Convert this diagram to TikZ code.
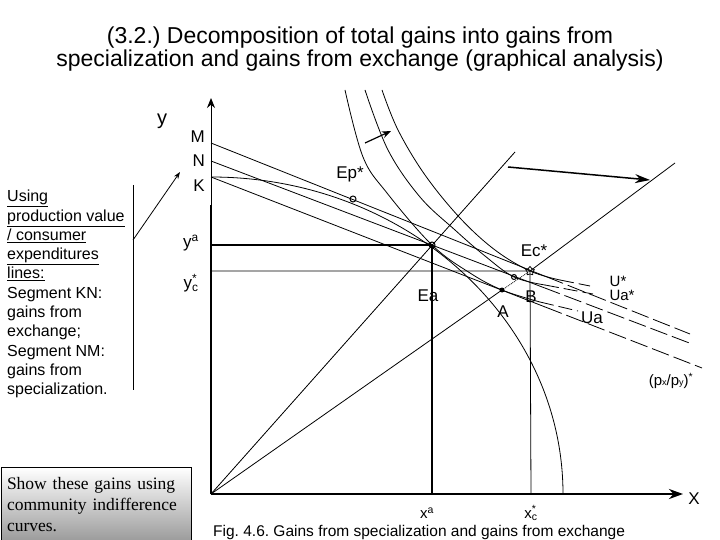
\documentclass[tikz,border=0pt]{standalone}
\usepackage{fontspec}
\setmainfont{Liberation Sans}
\newfontfamily\serifbox{Liberation Serif}
\usetikzlibrary{arrows.meta, positioning, shapes.geometric}
\frenchspacing

\begin{document}
\begin{tikzpicture}[
    x=1pt, y=-1pt,
    >=Stealth,
    axisline/.style={line width=2.4pt},
    guideline/.style={line width=1.8pt},
    valueline/.style={line width=0.8pt},
    valuetail/.style={line width=0.8pt, dash pattern=on 18pt off 5pt},
    indiff/.style={line width=0.8pt},
    indifftail/.style={line width=0.8pt, dash pattern=on 14pt off 5pt},
    ptmark/.style={circle, draw, line width=1pt, minimum size=6pt, inner sep=0pt},
    ptlabel/.style={font=\fontsize{17}{17}\selectfont, inner sep=0pt},
    smalllabel/.style={font=\fontsize{15}{15}\selectfont, inner sep=0pt},
    sidetext/.style={font=\fontsize{16}{19.3}\selectfont, align=left, inner sep=0pt}
]
\useasboundingbox (0,0) rectangle (720,540);

% --- Title ---
\node[font=\fontsize{23}{23}\selectfont, align=center] (title) at (360,49)
  {(3.2.) Decomposition of total gains into gains from\\specialization and gains from exchange (graphical analysis)};

% --- Left notes ---
\node[sidetext, anchor=north west] (notes) at (7,190)
  {\underline{Using}\\\underline{production value}\\\underline{/ consumer}\\\underline{expenditures}\\\underline{lines:}\\
   Segment KN:\\gains from\\exchange;\\Segment NM:\\gains from\\specialization.};
\coordinate (bracetop) at (133,185);
\coordinate (bracebot) at (133,390);
\coordinate (bracemid) at (133,240);
\coordinate (pointer) at (180,172);
\draw[line width=0.8pt] (bracetop) -- (bracebot);
\draw[line width=0.8pt, -{Stealth[length=7pt,width=5pt]}] (bracemid) -- (pointer);

\node[draw, line width=1pt, top color=white, bottom color=black!40, anchor=north west,
      text width=178pt, minimum height=75pt, inner xsep=6pt, inner ysep=4pt, align=left,
      font=\serifbox\fontsize{17.5}{21}\selectfont] (showbox) at (0.5,467)
  {Show these gains using\\community indifference\\curves.};

% --- Axes ---
\coordinate (O) at (211,494);
\coordinate (xtip) at (683,494);
\coordinate (ybreak) at (211,205);
\coordinate (ytip) at (211,98);
\draw[axisline] (O) -- (ybreak);
\draw[line width=1pt, -{Stealth[length=10pt,width=8pt]}] (ybreak) -- (ytip);
\draw[axisline, -{Stealth[length=14pt,width=10pt]}] (O) -- (xtip);
\node[font=\fontsize{20}{20}\selectfont] (ylab) at (162,121) {y};
\node[ptlabel] (xlab) at (694,499) {X};

% --- Points ---
\node[ptmark] (Ep) at (353,199) {};
\node[ptmark] (Ea) at (432,245) {};
\node[ptmark, minimum size=5pt] (Ex) at (514,277) {};
\node[circle, fill, minimum size=5pt, inner sep=0pt] (A) at (502,290) {};
\node[star, star points=5, draw, line width=0.8pt, minimum size=9pt, inner sep=0pt] (Ec) at (530,271) {};

% --- Axis intercepts ---
\coordinate (M) at (211,143);
\coordinate (N) at (211,161);
\coordinate (K) at (211,177);
\coordinate (ya) at (211,245);
\coordinate (yc) at (211,271);
\coordinate (xa) at (432,494);
\coordinate (xc) at (531,494);
\node[ptlabel, left=6pt of M, yshift=6pt] (Mlab) {M};
\node[ptlabel, left=6pt of N] (Nlab) {N};
\node[ptlabel, left=6pt of K, yshift=-9pt] (Klab) {K};
\node[ptlabel] (yalab) at (191,243) {y\textsuperscript{a}};
\node[ptlabel] (yclab) at (191,283) {y\rlap{\textsuperscript{*}}\textsubscript{c}};
\node[smalllabel] (xalab) at (427,513) {x\textsuperscript{a}};
\node[smalllabel] (xclab) at (531,513) {x\rlap{\textsuperscript{*}}\textsubscript{c}};

% --- Guide lines ---
\draw[guideline] (ya) -- (Ea.center) -- (xa);
\draw[valueline] (yc) -- (Ec.center) -- (xc);

% --- Value lines (M, N, K) ---
\coordinate (Mend) at (690,334);
\coordinate (Nend) at (692,344);
\coordinate (Kend) at (702,368);
\path (M) -- (Mend) coordinate[pos=0.70] (Mcut);
\path (N) -- (Nend) coordinate[pos=0.69] (Ncut);
\path (K) -- (Kend) coordinate[pos=0.68] (Kcut);
\draw[valueline] (M) -- (Mcut);
\draw[valuetail] (Mcut) -- (Mend);
\draw[valueline] (N) -- (Ncut);
\draw[valuetail] (Ncut) -- (Nend);
\draw[valueline] (K) -- (Kcut);
\draw[valuetail] (Kcut) -- (Kend);

% --- Production possibility frontier ---
\draw[valueline] (K) .. controls (405,177) and (563,319) .. (563,494);

% --- Rays from the origin ---
\coordinate (rayA) at (515,152);
\coordinate (rayB) at (675,163);
\draw[valueline] (O) -- (rayA);
\draw[valueline] (O) -- (A.center);
\draw[valueline, densely dotted] (A.center) -- (Ec.center);
\draw[valueline] (Ec.center) -- (rayB);

% --- Indifference curves ---
\draw[indiff] plot[smooth, tension=0.6] coordinates {(345,90) (363,157) (387,193) (432,245) (470,273) (502,290) (540,302)};
\draw[indifftail] (540,302) -- (578,311);
\draw[indiff] plot[smooth, tension=0.6] coordinates {(365,90) (388,150) (420,197) (455,230) (485,256) (514,277) (545,285)};
\draw[indifftail] (545,285) -- (593,294);
\draw[indiff] plot[smooth, tension=0.6] coordinates {(382,90) (398,130) (425,175) (460,218) (495,250) (530,271) (560,280)};
\draw[indifftail] (560,280) -- (590,286);

% --- Shift arrows ---
\coordinate (shiftA) at (365,143);
\coordinate (shiftB) at (391,131);
\draw[line width=1.2pt, -{Stealth[length=9pt,width=7pt]}] (shiftA) -- (shiftB);
\coordinate (rotA) at (508,167);
\coordinate (rotB) at (650,180);
\draw[line width=1.5pt, -{Stealth[length=15pt,width=9pt]}] (rotA) -- (rotB);

% --- Point labels ---
\node[ptlabel] (Eplab) at (350,174) {Ep*};
\node[ptlabel] (Eclab) at (534,251) {Ec*};
\node[ptlabel] (Ealab) at (428,296) {Ea};
\node[ptlabel] (Alab) at (503,312) {A};
\node[ptlabel] (Blab) at (531,297) {B};
\node[smalllabel] (Ustar) at (618,281) {U*};
\node[smalllabel] (Uastar) at (622,295) {Ua*};
\node[ptlabel] (Ualab) at (592,318) {Ua};
\node[smalllabel] (pricelab) at (671,381) {(p{\small x}/p{\small y})\textsuperscript{*}};

% --- Caption ---
\node[font=\fontsize{15.5}{16}\selectfont, anchor=west, inner sep=0pt] (caption) at (213,532)
  {Fig. 4.6. Gains from specialization and gains from exchange};

\end{tikzpicture}
\end{document}
